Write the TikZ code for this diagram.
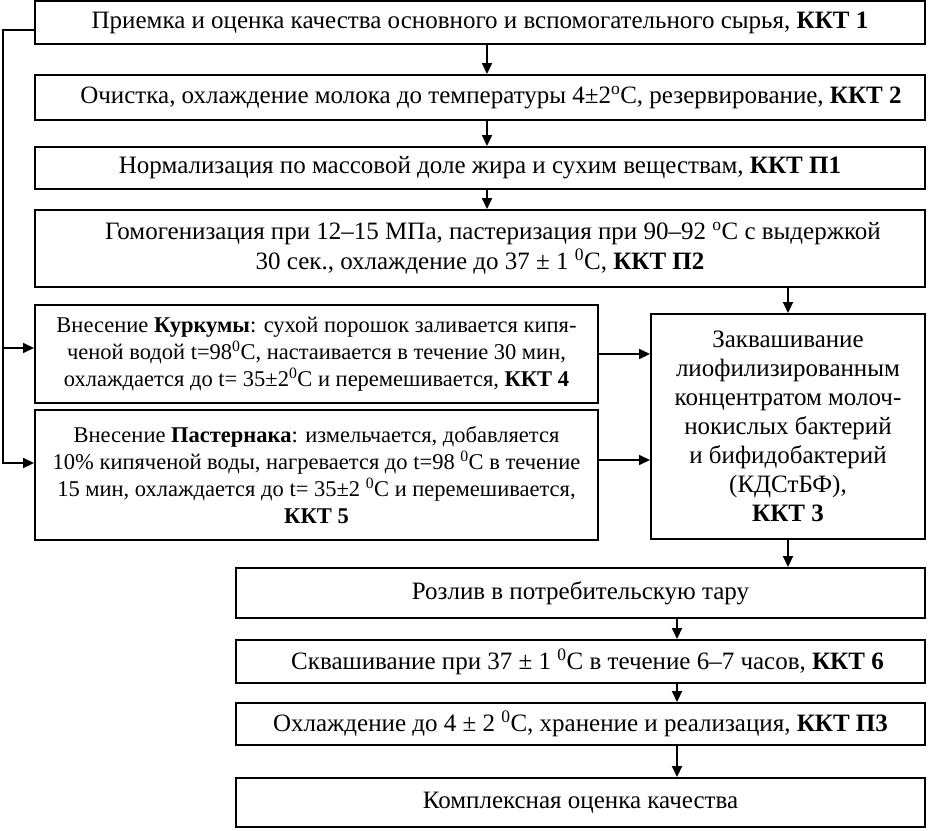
\documentclass[tikz,border=0pt]{standalone}
\usepackage{fontspec}
\setmainfont{Liberation Serif}
\usetikzlibrary{arrows.meta,calc}
\newcommand{\sps}[1]{\textsuperscript{#1}}
\tikzset{
  box/.style={draw, line width=2pt, rectangle, inner sep=2pt, align=center,
    font=\fontsize{25}{30}\selectfont},
  sidebox/.style={box, font=\fontsize{22.5}{27}\selectfont},
  arr/.style={line width=2pt, -{Triangle[length=11pt,width=10pt]}},
}
\begin{document}
\begin{tikzpicture}[x=1pt,y=-1pt]
\useasboundingbox (0,0) rectangle (928,830);
% top chain
\node[box, minimum width=890, minimum height=43] (b1) at (480,22.5)
  {Приемка и оценка качества основного и вспомогательного сырья, \textbf{ККТ 1}};
\node[box, minimum width=890, minimum height=45] (b2) at (480,97.5)
  {\hspace*{22pt}Очистка, охлаждение молока до температуры 4±2\sps{o}C, резервирование, \textbf{ККТ 2}};
\node[box, minimum width=890, minimum height=42] (b3) at (480,168)
  {Нормализация по массовой доле жира и сухим веществам, \textbf{ККТ П1}};
\node[box, minimum width=890, minimum height=77] (b4) at (480,248.5)
  {\hspace*{26pt}Гомогенизация при 12--15 МПа, пастеризация при 90--92 \sps{o}C с выдержкой\\
   30 сек., охлаждение до 37 ± 1 \sps{0}C, \textbf{ККТ П2}};
% side boxes
\node[sidebox, minimum width=563, minimum height=98] (k) at (316.5,354)
  {Внесение \textbf{Куркумы}: сухой порошок заливается кипя-\\
   ченой водой t=98\sps{0}C, настаивается в течение 30 мин,\\
   охлаждается до t= 35±2\sps{0}C и перемешивается, \textbf{ККТ 4}};
\node[sidebox, minimum width=563, minimum height=130] (p) at (316.5,475)
  {Внесение \textbf{Пастернака}: измельчается, добавляется\\
   10\% кипяченой воды, нагревается до t=98 \sps{0}C в течение\\
   15 мин, охлаждается до t= 35±2 \sps{0}C и перемешивается,\\
   \textbf{ККТ 5}};
\node[box, minimum width=274, minimum height=225, font=\fontsize{25}{29}\selectfont] (z) at (788,426.5)
  {Заквашивание\\ лиофилизированным\\ концентратом молоч-\\ нокислых бактерий\\
   и бифидобактерий\\ (КДСтБФ),\\ \textbf{ККТ 3}};
% bottom chain
\node[box, minimum width=689, minimum height=50] (r) at (580.5,593)
  {Розлив в потребительскую тару};
\node[box, minimum width=689, minimum height=43] (s) at (580.5,661.5)
  {\hspace*{14pt}Сквашивание при 37 ± 1 \sps{0}C в течение 6--7 часов, \textbf{ККТ 6}};
\node[box, minimum width=689, minimum height=42] (o) at (580.5,724)
  {Охлаждение до 4 ± 2 \sps{0}C, хранение и реализация, \textbf{ККТ П3}};
\node[box, minimum width=689, minimum height=49] (c) at (580.5,802.5)
  {Комплексная оценка качества};
% coordinates
\coordinate (xa) at (487,0);
\coordinate (xb) at (677,0);
\coordinate (L) at (3,0);
\coordinate (ka) at ([yshift=6pt]k.west);
\coordinate (pa) at ([yshift=12pt]p.west);
\coordinate (pz) at ([yshift=15pt]p.east);
% connectors
\draw[arr] (b1.south -| xa) -- (b2.north -| xa);
\draw[arr] (b2.south -| xa) -- (b3.north -| xa);
\draw[arr] (b3.south -| xa) -- (b4.north -| xa);
\draw[arr] (b4.south -| z.north) -- (z.north);
\draw[arr] (k.east) -- (k.east -| z.west);
\draw[arr] (pz) -- (pz -| z.west);
\draw[arr] ([yshift=-7pt]b1.west) -| (L |- pa) -- (pa);
\draw[arr] (L |- ka) -- (ka);
\draw[arr] (z.south) -- (z.south |- r.north);
\draw[arr] (r.south -| xb) -- (s.north -| xb);
\draw[arr] (s.south -| xb) -- (o.north -| xb);
\draw[arr] (o.south -| xb) -- (c.north -| xb);
\end{tikzpicture}
\end{document}
